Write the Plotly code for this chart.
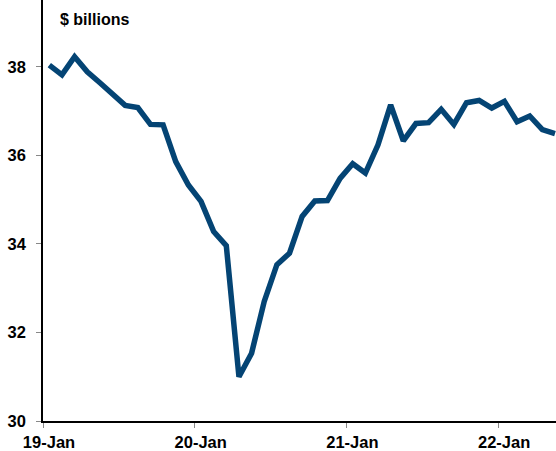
import plotly.graph_objects as go

# Monthly values, Jan 2019 .. May 2022 ($ billions)
months = [
    "2019-01", "2019-02", "2019-03", "2019-04", "2019-05", "2019-06", "2019-07", "2019-08",
    "2019-09", "2019-10", "2019-11", "2019-12", "2020-01", "2020-02", "2020-03", "2020-04",
    "2020-05", "2020-06", "2020-07", "2020-08", "2020-09", "2020-10", "2020-11", "2020-12",
    "2021-01", "2021-02", "2021-03", "2021-04", "2021-05", "2021-06", "2021-07", "2021-08",
    "2021-09", "2021-10", "2021-11", "2021-12", "2022-01", "2022-02", "2022-03", "2022-04",
    "2022-05",
]
values = [
    38.04, 37.82, 38.23, 37.89, 37.64, 37.40, 37.13, 37.08, 36.70, 36.69,
    35.86, 35.33, 34.96, 34.28, 33.96, 31.00, 31.53, 32.70, 33.53, 33.79,
    34.62, 34.97, 34.98, 35.48, 35.81, 35.60, 36.24, 37.14, 36.33, 36.72,
    36.74, 37.04, 36.70, 37.19, 37.24, 37.07, 37.22, 36.76, 36.89, 36.58,
    36.49,
]
tick_labels = ["19-Jan", "20-Jan", "21-Jan", "22-Jan"]
tick_months = ["2019-01", "2020-01", "2021-01", "2022-01"]
y_ticks = [30, 32, 34, 36, 38]
unit_label = "$ billions"

idx = list(range(len(months)))
tick_pos = [months.index(m) - 0.5 for m in tick_months]

FONT = "Liberation Sans, Arial, sans-serif"

fig = go.Figure()
fig.add_trace(go.Scatter(
    x=idx, y=values, mode="lines",
    line=dict(color="#044474", width=5.5),
    hovertext=months, showlegend=False,
))

fig.update_layout(
    width=556, height=451,
    margin=dict(l=43, r=0, t=0, b=30),
    paper_bgcolor="white", plot_bgcolor="white",
    font=dict(family=FONT, color="black", size=16),
    showlegend=False,
)
fig.update_xaxes(
    range=[-0.5, 40.08],
    tickvals=tick_pos, ticktext=tick_labels,
    ticks="outside", ticklen=5, tickcolor="#888888", tickwidth=1,
    ticklabelshift=6,
    tickfont=dict(family=FONT, size=16.5, weight="bold", color="black"),
    showline=True, linecolor="black", linewidth=1.5,
    showgrid=False, zeroline=False,
)
fig.update_yaxes(
    range=[30, 39.51],
    tickvals=y_ticks,
    ticks="outside", ticklen=5, tickcolor="#888888", tickwidth=1,
    ticklabelstandoff=7,
    tickfont=dict(family=FONT, size=16.5, weight="bold", color="black"),
    showline=True, linecolor="black", linewidth=1.5,
    showgrid=False, zeroline=False,
)
fig.add_annotation(
    text=unit_label, xref="paper", yref="paper",
    x=15 / 513, y=1 - 19 / 421, xanchor="left", yanchor="middle",
    showarrow=False,
    font=dict(family=FONT, size=16, weight="bold", color="black"),
)

fig.write_html("out.html")
